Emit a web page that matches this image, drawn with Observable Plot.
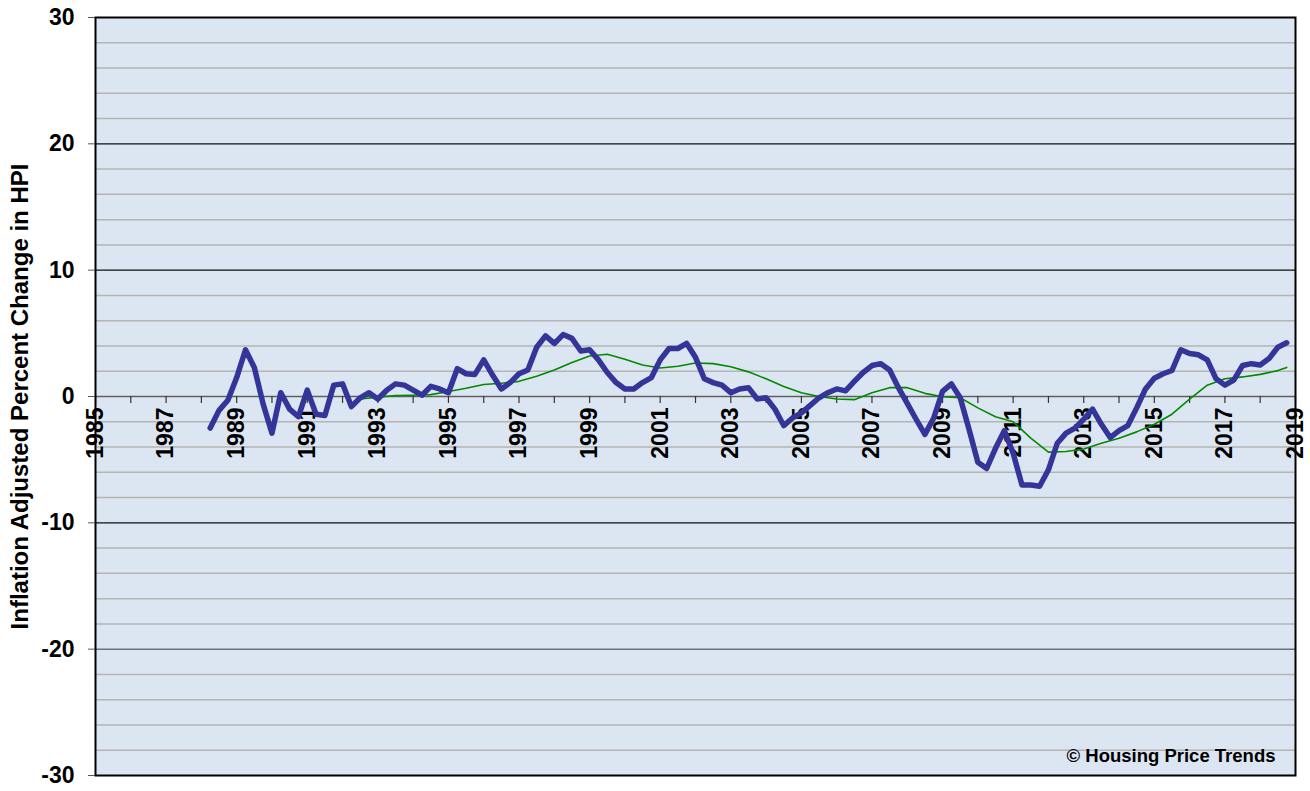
<!DOCTYPE html>
<html>
<head>
<meta charset="utf-8">
<script src="https://cdn.jsdelivr.net/npm/d3@7"></script>
<script src="https://cdn.jsdelivr.net/npm/@observablehq/plot@0.6"></script>
<style>
  html, body { margin: 0; padding: 0; background: #ffffff; }
  svg { display: block; }
</style>
</head>
<body>
<div id="chart"></div>
<script>
// Quarterly inflation-adjusted % change in HPI (blue), starting 1988.25
const blueStart = 1988.25;
const blueStep = 0.25;
const blueValues = [
  -2.5, -1.1, -0.3, 1.5, 3.7, 2.3, -0.6, -2.9, 0.3, -1.0,
  -1.6, 0.5, -1.4, -1.5, 0.9, 1.0, -0.8, -0.1, 0.3, -0.2,
  0.5, 1.0, 0.9, 0.5, 0.1, 0.8, 0.6, 0.3, 2.2, 1.8,
  1.75, 2.9, 1.7, 0.6, 1.1, 1.8, 2.1, 3.9, 4.8, 4.2,
  4.9, 4.6, 3.6, 3.7, 2.9, 1.9, 1.1, 0.6, 0.6, 1.1,
  1.5, 2.9, 3.8, 3.8, 4.2, 3.1, 1.4, 1.1, 0.9, 0.3,
  0.6, 0.7, -0.2, -0.1, -1.0, -2.3, -1.7, -1.3, -0.7, -0.1,
  0.3, 0.6, 0.45, 1.2, 1.9, 2.45, 2.6, 2.1, 0.7, -0.55,
  -1.8, -3.0, -1.7, 0.4, 1.0, -0.1, -2.6, -5.2, -5.7, -4.1,
  -2.7, -4.5, -7.0, -7.0, -7.1, -5.8, -3.7, -2.9, -2.5, -1.8,
  -1.0, -2.2, -3.25, -2.7, -2.3, -0.9, 0.6, 1.45, 1.8, 2.06,
  3.7, 3.4, 3.3, 2.9, 1.4, 0.9, 1.3, 2.45, 2.6, 2.5,
  3.0, 3.9, 4.25
];

// Smoothed trend (green), read at half-year points
const greenYears = [
  1992.5, 1993, 1993.5, 1994, 1994.5, 1995, 1995.5, 1996, 1996.5, 1997,
  1997.5, 1998, 1998.5, 1999, 1999.5, 2000, 2000.5, 2001, 2001.5, 2002,
  2002.5, 2003, 2003.5, 2004, 2004.5, 2005, 2005.5, 2006, 2006.5, 2007,
  2007.5, 2008, 2008.5, 2009, 2009.5, 2010, 2010.5, 2011, 2011.5, 2012,
  2012.5, 2013, 2013.5, 2014, 2014.5, 2015, 2015.5, 2016, 2016.5, 2017,
  2017.5, 2018, 2018.5, 2018.75
];
const greenValues = [
  -0.2, -0.05, 0.08, 0.1, 0.15, 0.4, 0.65, 0.95, 1.05, 1.2,
  1.6, 2.1, 2.7, 3.2, 3.35, 2.95, 2.5, 2.25, 2.4, 2.65,
  2.6, 2.35, 1.95, 1.4, 0.8, 0.3, 0.0, -0.2, -0.25, 0.3,
  0.7, 0.7, 0.25, -0.02, -0.1, -0.9, -1.6, -2.0, -3.3, -4.4,
  -4.35, -4.15, -3.7, -3.3, -2.8, -2.2, -1.4, -0.2, 0.9, 1.4,
  1.55, 1.75, 2.05, 2.3
];

const yTicks = [-30, -20, -10, 0, 10, 20, 30];
const yMajorBlack = [-10, 10, 20];
const yMajorGray = [-20];
const yMinor = [-28, -26, -24, -22, -18, -16, -14, -12, -8, -6, -4, -2, 2, 4, 6, 8, 12, 14, 16, 18, 22, 24, 26, 28];
const xTickYears = [1985, 1986, 1987, 1988, 1989, 1990, 1991, 1992, 1993, 1994, 1995, 1996, 1997, 1998, 1999, 2000, 2001, 2002, 2003, 2004, 2005, 2006, 2007, 2008, 2009, 2010, 2011, 2012, 2013, 2014, 2015, 2016, 2017, 2018, 2019];
const xLabelYears = [1985, 1987, 1989, 1991, 1993, 1995, 1997, 1999, 2001, 2003, 2005, 2007, 2009, 2011, 2013, 2015, 2017, 2019];
const yTitle = "Inflation Adjusted Percent Change in HPI";
const caption = "© Housing Price Trends";

const blue = blueValues.map((v, i) => ({x: blueStart + i * blueStep, y: v}));
const green = greenYears.map((x, i) => ({x, y: greenValues[i]}));

const font = "'Liberation Sans', Arial, Helvetica, sans-serif";

const chart = Plot.plot({
  width: 1310,
  height: 791,
  marginLeft: 95,
  marginRight: 15,
  marginTop: 17,
  marginBottom: 16,
  style: {fontFamily: font, background: "#ffffff", color: "#000"},
  x: {domain: [1985, 2019], axis: null},
  y: {domain: [-30, 30], axis: null},
  marks: [
    Plot.frame({fill: "#dce6f2", stroke: null}),
    Plot.ruleY(yMinor, {stroke: "#b4b4b4", strokeWidth: 1.5}),
    Plot.ruleY(yMajorBlack, {stroke: "#111", strokeWidth: 1.2}),
    Plot.ruleY(yMajorGray, {stroke: "#6d737b", strokeWidth: 1.5}),
    Plot.ruleY([0], {stroke: "#5f5f5f", strokeWidth: 1.5}),
    Plot.ruleX(xTickYears, {x: d => d, y1: 0, y2: -0.55, stroke: "#333", strokeWidth: 1.2}),
    Plot.text(xLabelYears, {
      x: d => d, y: 0, text: d => String(d),
      rotate: -90, textAnchor: "end", dy: 11,
      fontSize: 23, fontWeight: "bold", fill: "#000"
    }),
    Plot.line(green, {x: "x", y: "y", stroke: "#008a00", strokeWidth: 1.6}),
    Plot.line(blue, {x: "x", y: "y", stroke: "#353599", strokeWidth: 5.5, strokeLinejoin: "round", strokeLinecap: "round"}),
    Plot.frame({stroke: "#000", strokeWidth: 2}),
    Plot.axisY({
      ticks: yTicks, tickSize: 7, tickPadding: 14, label: null,
      tickFormat: d => String(d),
      fontSize: 23, fontWeight: "bold", stroke: "#555"
    }),
    Plot.text([yTitle], {
      frameAnchor: "left", rotate: -90, dx: -75, textAnchor: "middle",
      fontSize: 24, fontWeight: "bold", fill: "#000"
    }),
    Plot.text([caption], {
      frameAnchor: "bottom-right", textAnchor: "end", lineAnchor: "bottom",
      dx: -20, dy: -14, fontSize: 18.5, fontWeight: "bold", fill: "#000"
    })
  ]
});

document.getElementById("chart").appendChild(chart);
</script>
</body>
</html>
